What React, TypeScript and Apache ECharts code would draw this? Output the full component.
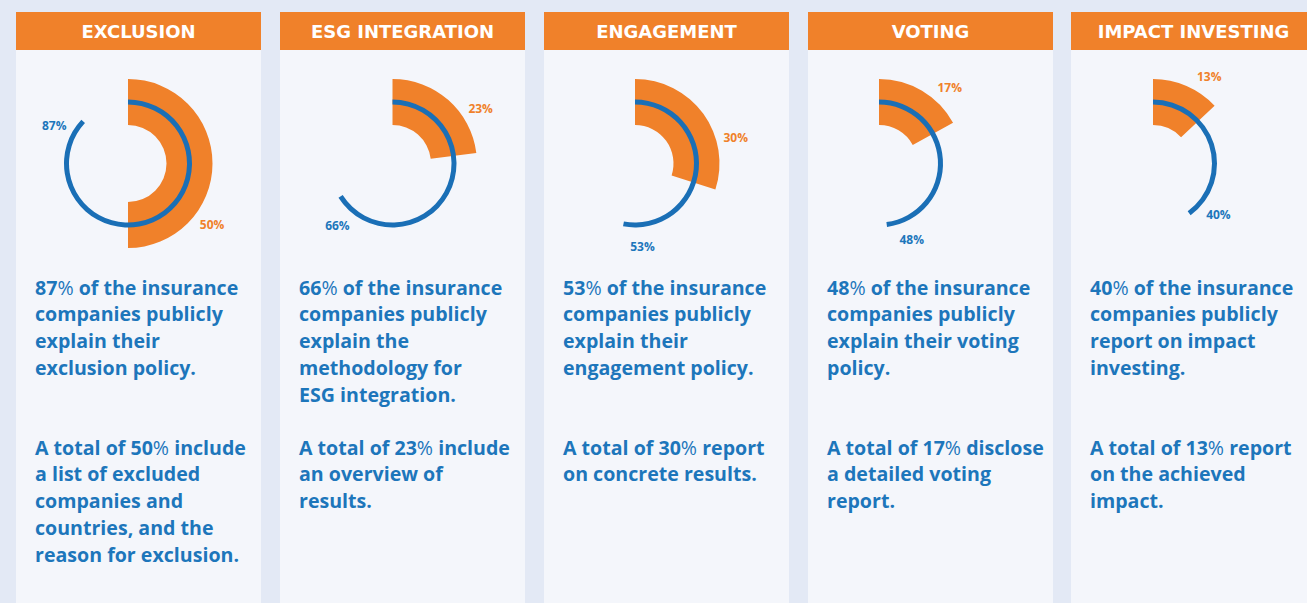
import React, { useEffect, useRef } from "react";
import * as echarts from "echarts";

const categories = ["EXCLUSION", "ESG INTEGRATION", "ENGAGEMENT", "VOTING", "IMPACT INVESTING"];
const policyShare = [87, 66, 53, 48, 40];
const resultShare = [50, 23, 30, 17, 13];
const policyLines = [
  ["of the insurance", "companies publicly", "explain their", "exclusion policy."],
  ["of the insurance", "companies publicly", "explain the", "methodology for", "ESG integration."],
  ["of the insurance", "companies publicly", "explain their", "engagement policy."],
  ["of the insurance", "companies publicly", "explain their voting", "policy."],
  ["of the insurance", "companies publicly", "report on impact", "investing."],
];
const resultLines = [
  ["include", "a list of excluded", "companies and", "countries, and the", "reason for exclusion."],
  ["include", "an overview of", "results."],
  ["report", "on concrete results."],
  ["disclose", "a detailed voting", "report."],
  ["report", "on the achieved", "impact."],
];

const ORANGE = "#f0812a";
const BLUE_RING = "#1a6fb6";
const BLUE_TEXT = "#1d76bb";
const PAGE_BG = "#e3e9f5";
const PANEL_BG = "#f4f6fb";

const panelLeft = [16, 280, 544, 808, 1071];
const panelWidth = 245;
const centerX = [128, 392.5, 635, 879, 1153];
const centerY = 163.5;

export default function App() {
  const ref = useRef<HTMLDivElement>(null);
  useEffect(() => {
    if (!ref.current) return;
    const chart = echarts.init(ref.current, undefined, { renderer: "svg" });
    const lh = 26.75;
    const fs = 19.6;
    const rich = {
      b: { fontFamily: "Open Sans", fontWeight: 700, fontSize: fs, fill: BLUE_TEXT, lineHeight: lh },
      p: { fontFamily: "Open Sans", fontWeight: 400, fontSize: fs, fill: BLUE_TEXT, lineHeight: lh },
    };
    const graphics: any[] = [];
    const series: any[] = [];
    categories.forEach((cat, i) => {
      const left = panelLeft[i];
      graphics.push({
        type: "rect", z: 0, silent: true,
        shape: { x: left, y: 12, width: panelWidth, height: 600 },
        style: { fill: PANEL_BG },
      });
      graphics.push({
        type: "rect", z: 1, silent: true,
        shape: { x: left, y: 12, width: panelWidth, height: 38 },
        style: { fill: ORANGE },
      });
      graphics.push({
        type: "text", z: 3, silent: true,
        x: left + panelWidth / 2, y: 31,
        style: {
          text: cat, fill: "#ffffff", fontFamily: "DejaVu Sans", fontWeight: "bold", fontSize: 18,
          align: "center", verticalAlign: "middle",
        },
      });
      const pl = policyLines[i];
      const ptext = [`{b|${policyShare[i]}}{p|%}{b| ${pl[0]}}`, ...pl.slice(1).map((l) => `{b|${l}}`)].join("\n");
      graphics.push({
        type: "text", z: 3, silent: true,
        x: left + 19, y: 287 - lh / 2,
        style: { text: ptext, rich, fill: BLUE_TEXT, align: "left", verticalAlign: "top" },
      });
      const rl = resultLines[i];
      const rtext = [`{b|A total of ${resultShare[i]}}{p|%}{b| ${rl[0]}}`, ...rl.slice(1).map((l) => `{b|${l}}`)].join("\n");
      graphics.push({
        type: "text", z: 3, silent: true,
        x: left + 19, y: 447 - lh / 2,
        style: { text: rtext, rich, fill: BLUE_TEXT, align: "left", verticalAlign: "top" },
      });
      // labels
      const oa = ((0.7 * resultShare[i]) / 100) * 2 * Math.PI;
      const ro = 104;
      graphics.push({
        type: "text", z: 5, silent: true,
        x: centerX[i] + ro * Math.sin(oa), y: centerY - ro * Math.cos(oa),
        style: {
          text: resultShare[i] + "%", fill: ORANGE, fontFamily: "Open Sans", fontWeight: 700, fontSize: 12,
          align: "center", verticalAlign: "middle",
        },
      });
      const ba = ((policyShare[i] / 100) * 360 - 16) * Math.PI / 180;
      const rb = 83;
      graphics.push({
        type: "text", z: 5, silent: true,
        x: centerX[i] + rb * Math.sin(ba), y: centerY - rb * Math.cos(ba),
        style: {
          text: policyShare[i] + "%", fill: BLUE_TEXT, fontFamily: "Open Sans", fontWeight: 700, fontSize: 12,
          align: "center", verticalAlign: "middle",
        },
      });
      series.push({
        type: "pie", z: 2, silent: true,
        center: [centerX[i], centerY], radius: [38.5, 84.5],
        startAngle: 90, clockwise: true,
        label: { show: false }, labelLine: { show: false },
        emphasis: { disabled: true },
        itemStyle: { borderWidth: 0 },
        data: [
          { value: resultShare[i], name: "r", itemStyle: { color: ORANGE } },
          { value: 100 - resultShare[i], name: "rest", itemStyle: { color: "rgba(0,0,0,0)" } },
        ],
      });
      series.push({
        type: "pie", z: 3, silent: true,
        center: [centerX[i], centerY], radius: [59, 64],
        startAngle: 90, clockwise: true,
        label: { show: false }, labelLine: { show: false },
        emphasis: { disabled: true },
        itemStyle: { borderWidth: 0 },
        data: [
          { value: policyShare[i], name: "p", itemStyle: { color: BLUE_RING } },
          { value: 100 - policyShare[i], name: "rest", itemStyle: { color: "rgba(0,0,0,0)" } },
        ],
      });
    });
    chart.setOption({
      animation: false,
      backgroundColor: PAGE_BG,
      graphic: { elements: graphics },
      series,
    });
    return () => chart.dispose();
  }, []);
  return <div ref={ref} style={{ position: "absolute", left: 0, top: 0, width: 1307, height: 603 }} />;
}
